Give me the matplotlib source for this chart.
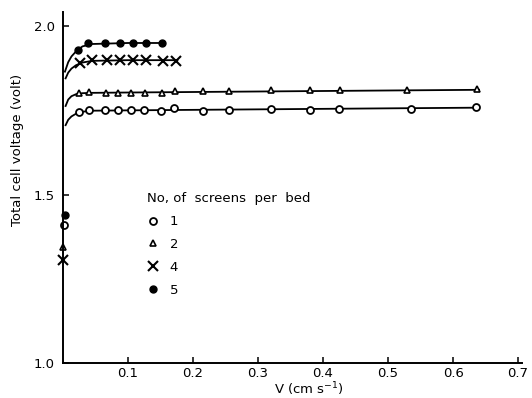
import matplotlib
matplotlib.use("Agg")
import matplotlib.pyplot as plt

# ---- data ----
x_s1 = [0.002, 0.024, 0.040, 0.065, 0.085, 0.105, 0.125, 0.150, 0.170, 0.215, 0.255, 0.320, 0.380, 0.425, 0.535, 0.635]
y_s1 = [1.41, 1.745, 1.750, 1.750, 1.750, 1.750, 1.750, 1.748, 1.756, 1.748, 1.750, 1.755, 1.752, 1.753, 1.754, 1.760]

x_s2 = [0.0, 0.024, 0.040, 0.066, 0.085, 0.105, 0.126, 0.152, 0.173, 0.215, 0.255, 0.320, 0.380, 0.426, 0.529, 0.637]
y_s2 = [1.345, 1.803, 1.804, 1.803, 1.803, 1.803, 1.803, 1.803, 1.806, 1.806, 1.807, 1.809, 1.810, 1.810, 1.810, 1.812]

x_s4 = [0.0, 0.026, 0.044, 0.067, 0.088, 0.107, 0.128, 0.154, 0.174]
y_s4 = [1.306, 1.89, 1.90, 1.90, 1.90, 1.90, 1.90, 1.897, 1.897]

x_s5 = [0.003, 0.023, 0.039, 0.065, 0.087, 0.108, 0.128, 0.152]
y_s5 = [1.44, 1.929, 1.950, 1.950, 1.950, 1.950, 1.950, 1.950]

# fitted curves
cx_s1 = [0.004, 0.008, 0.013, 0.020, 0.030, 0.045, 0.100, 0.300, 0.500, 0.640]
cy_s1 = [1.706, 1.722, 1.732, 1.740, 1.746, 1.749, 1.750, 1.753, 1.756, 1.758]
cx_s2 = [0.004, 0.008, 0.013, 0.020, 0.030, 0.045, 0.100, 0.300, 0.500, 0.640]
cy_s2 = [1.763, 1.782, 1.792, 1.798, 1.801, 1.802, 1.803, 1.806, 1.809, 1.811]
cx_s4 = [0.004, 0.008, 0.013, 0.020, 0.030, 0.045, 0.100, 0.176]
cy_s4 = [1.845, 1.862, 1.874, 1.884, 1.892, 1.897, 1.899, 1.899]
cx_s5 = [0.003, 0.008, 0.013, 0.020, 0.030, 0.045, 0.100, 0.153]
cy_s5 = [1.865, 1.893, 1.910, 1.925, 1.940, 1.947, 1.950, 1.950]

labels = ["1", "2", "4", "5"]
xticks = [0.1, 0.2, 0.3, 0.4, 0.5, 0.6, 0.7]
xticklabels = ["0.1", "0.2", "0.3", "0.4", "0.5", "0.6", "0.7"]
yticks = [1.0, 1.5, 2.0]
yticklabels = ["1.0", "1.5", "2.0"]

# ---- figure ----
W, H = 532, 398
fig = plt.figure(figsize=(W / 100, H / 100), dpi=100)
ax = fig.add_axes([63 / W, 1 - 363 / H, (522 - 63) / W, (363 - 12) / H])
fs = 9.5
lc = "black"

for cx, cy in [(cx_s1, cy_s1), (cx_s2, cy_s2), (cx_s4, cy_s4), (cx_s5, cy_s5)]:
    ax.plot(cx, cy, color=lc, lw=1.3, clip_on=False)

h1, = ax.plot(x_s1, y_s1, ls="none", marker="o", ms=5, mfc="white", mec=lc, mew=1.3, clip_on=False)
h2, = ax.plot(x_s2, y_s2, ls="none", marker="^", ms=5, mfc="white", mec=lc, mew=1.2, clip_on=False)
h4, = ax.plot(x_s4, y_s4, ls="none", marker="x", ms=7.5, mec=lc, mew=1.5, clip_on=False)
h5, = ax.plot(x_s5, y_s5, ls="none", marker="o", ms=5, mfc=lc, mec=lc, clip_on=False)

ax.set_xlim(0, 0.706)
ax.set_ylim(1.0, 2.042)
for s in ["top", "right"]:
    ax.spines[s].set_visible(False)
for s in ["left", "bottom"]:
    ax.spines[s].set_linewidth(1.4)

ax.set_xticks(xticks)
ax.set_xticklabels(xticklabels, fontsize=fs)
ax.set_yticks(yticks)
ax.set_yticklabels(yticklabels, fontsize=fs)
ax.tick_params(axis="x", direction="in", length=4, width=1.1, pad=3)
ax.tick_params(axis="y", direction="in", length=4, width=1.1, pad=6)

fig.text(18 / W, 1 - 150 / H, "Total cell voltage (volt)", rotation=90,
         ha="center", va="center", fontsize=fs)
fig.text(309 / W, 1 - 389 / H, "V (cm s$^{-1}$)", ha="center", va="center", fontsize=fs)

leg = ax.legend([h1, h2, h4, h5], labels, title="No, of  screens  per  bed",
                loc="upper left", bbox_to_anchor=(138 / W, 1 - 183 / H),
                bbox_transform=fig.transFigure, frameon=False, fontsize=fs,
                title_fontsize=fs, handlelength=0.8, handletextpad=0.9,
                labelspacing=0.75, alignment="left", borderpad=0.2)

fig.savefig("out.png", dpi=100)
